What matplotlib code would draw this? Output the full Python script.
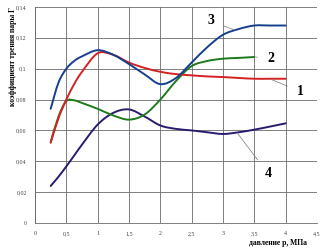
import numpy as np
import matplotlib
matplotlib.use("Agg")
import matplotlib.pyplot as plt
from matplotlib.path import Path
from matplotlib.patches import PathPatch

# pressure p, MPa
x_long = [0.25, 0.375, 0.5, 0.625, 0.75, 1.0, 1.25, 1.5, 1.75, 2.0, 2.25, 2.5, 2.75, 3.0, 3.25, 3.5, 3.75, 4.0]
x_short = [0.25, 0.375, 0.5, 0.625, 0.75, 1.0, 1.25, 1.5, 1.75, 2.0, 2.25, 2.5, 2.75, 3.0, 3.25, 3.5]

# friction coefficient for the four curves
curve1 = [0.052, 0.068, 0.080, 0.090, 0.098, 0.110, 0.109, 0.104, 0.1005, 0.098, 0.0965, 0.0957, 0.095, 0.0946, 0.094, 0.0935, 0.0935, 0.0935]
curve2 = [0.0525, 0.069, 0.079, 0.0795, 0.0778, 0.074, 0.0697, 0.067, 0.0703, 0.080, 0.092, 0.1017, 0.105, 0.1065, 0.107, 0.1076]
curve3 = [0.074, 0.091, 0.100, 0.105, 0.108, 0.112, 0.109, 0.103, 0.0963, 0.090, 0.094, 0.104, 0.114, 0.122, 0.1257, 0.128, 0.128, 0.128]
curve4 = [0.024, 0.030, 0.0367, 0.0437, 0.0508, 0.0638, 0.0714, 0.0736, 0.069, 0.0632, 0.061, 0.060, 0.0588, 0.0577, 0.0588, 0.0605, 0.0625, 0.0646]

xticks = [0, 0.5, 1, 1.5, 2, 2.5, 3, 3.5, 4, 4.5]
xtick_labels = ["0", "0,5", "1", "1,5", "2", "2,5", "3", "3,5", "4", "4,5"]
yticks = [0, 0.02, 0.04, 0.06, 0.08, 0.1, 0.12, 0.14]
ytick_labels = ["0", "0,02", "0,04", "0,06", "0,08", "0,1", "0,12", "0,14"]


def smooth_path(xs, ys):
    # catmull-rom through the points, like excel's smoothed line
    p = np.column_stack([xs, ys])
    pts = np.vstack([p[0], p, p[-1]])
    verts = [p[0]]
    codes = [Path.MOVETO]
    for i in range(1, len(pts) - 2):
        c1 = pts[i] + (pts[i + 1] - pts[i - 1]) / 6
        c2 = pts[i + 1] - (pts[i + 2] - pts[i]) / 6
        verts += [c1, c2, pts[i + 1]]
        codes += [Path.CURVE4] * 3
    return Path(verts, codes)


fig = plt.figure(figsize=(3.29, 2.52), dpi=100)
ax = fig.add_axes([35 / 329, 1 - 223 / 252, 282 / 329, 216 / 252])

series = [
    (x_long, curve4, "#2b1a6e"),
    (x_short, curve2, "#1d7a1d"),
    (x_long, curve1, "#d42222"),
    (x_long, curve3, "#163f8f"),
]
for xs, ys, c in series:
    ax.add_patch(PathPatch(smooth_path(xs, ys), facecolor="none", edgecolor=c, lw=1.4, capstyle="round"))

ax.set_xlim(0, 4.5)
ax.set_ylim(0, 0.14)
ax.set_xticks(xticks)
ax.set_xticklabels(xtick_labels)
ax.set_yticks(yticks)
ax.set_yticklabels(ytick_labels)
ax.grid(True, color="#6a6a6a", lw=0.6)
ax.set_axisbelow(True)
ax.tick_params(length=0, labelsize=4.3, pad=6, labelcolor="#444444")
for lbl in ax.get_xticklabels() + ax.get_yticklabels():
    lbl.set_family("Liberation Serif")
for s in ["top", "right"]:
    ax.spines[s].set_visible(False)
for s in ["left", "bottom"]:
    ax.spines[s].set_color("#6a6a6a")
    ax.spines[s].set_linewidth(0.6)

font = dict(family="Liberation Serif", weight="bold")
fig.text(13 / 329, 1 - 56 / 252, "коэффициент трения пары Г", rotation=90,
         ha="center", va="center", fontsize=5.5, **font)
fig.text(278 / 329, 1 - 243 / 252, "давление р, МПа", ha="center", va="center",
         fontsize=5.5, **font)

# curve numbers with leader lines
labels = [
    ("3", (3.19, 0.125), (2.8, 0.131)),
    ("2", (3.52, 0.1076), (3.76, 0.1065)),
    ("1", (3.77, 0.093), (4.23, 0.0855)),
    ("4", (3.24, 0.0577), (3.72, 0.0319)),
]
for txt, xy, xytext in labels:
    ax.annotate(txt, xy=xy, xytext=xytext, ha="center", va="center",
                fontsize=10, annotation_clip=False,
                arrowprops=dict(arrowstyle="-", color="#777777", lw=0.5, shrinkA=5, shrinkB=0),
                **font)

fig.savefig("out.png", dpi=100)
